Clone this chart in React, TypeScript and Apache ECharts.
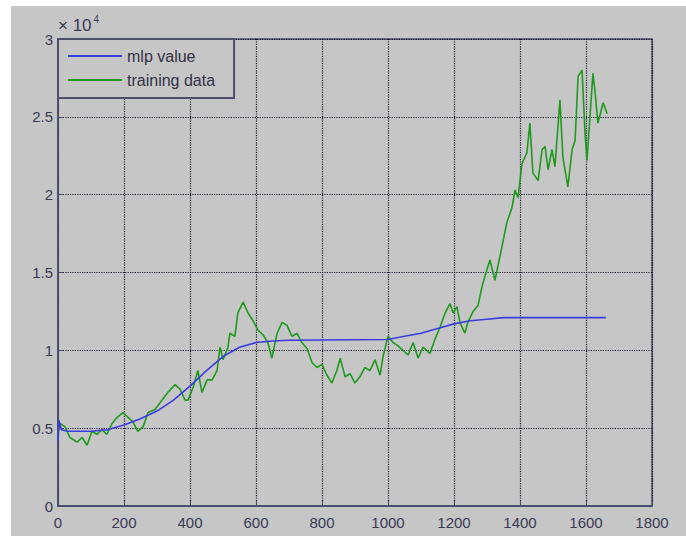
import React, { useEffect, useRef } from "react";
import * as echarts from "echarts";

// x-axis: sample index; y-axis values shown in units of 10^4
const xTicks = [0, 200, 400, 600, 800, 1000, 1200, 1400, 1600, 1800];
const yTicks = [0, 0.5, 1, 1.5, 2, 2.5, 3];
const seriesNames = ["mlp value", "training data"];

const mlpX = [0, 3, 10, 30, 100, 150, 200, 250, 300, 350, 400, 450, 500, 550, 600, 650, 700, 1000, 1050, 1100, 1150, 1200, 1250, 1300, 1350, 1400, 1660];
const mlpY = [0.42, 0.55, 0.49, 0.48, 0.48, 0.49, 0.52, 0.56, 0.61, 0.68, 0.77, 0.87, 0.96, 1.02, 1.05, 1.06, 1.065, 1.07, 1.09, 1.11, 1.14, 1.17, 1.19, 1.2, 1.21, 1.21, 1.21];

const trainX = [0, 6, 21, 36, 58, 73, 88, 103, 118, 133, 148, 164, 179, 197, 212, 227, 242, 258, 273, 294, 315, 333, 355, 370, 385, 394, 409, 424, 436, 452, 467, 482, 491, 500, 515, 521, 536, 545, 561, 576, 591, 606, 621, 636, 648, 664, 679, 694, 709, 724, 739, 755, 770, 785, 800, 815, 830, 845, 855, 870, 885, 900, 915, 930, 945, 961, 976, 985, 1000, 1015, 1030, 1045, 1061, 1076, 1091, 1106, 1127, 1142, 1158, 1173, 1188, 1197, 1209, 1218, 1233, 1242, 1258, 1273, 1285, 1300, 1309, 1324, 1339, 1360, 1376, 1385, 1394, 1406, 1421, 1430, 1439, 1455, 1467, 1476, 1485, 1497, 1506, 1521, 1530, 1545, 1558, 1567, 1576, 1588, 1597, 1603, 1612, 1621, 1627, 1636, 1652, 1664];
const trainY = [0.47, 0.53, 0.51, 0.44, 0.41, 0.44, 0.39, 0.48, 0.46, 0.49, 0.46, 0.53, 0.57, 0.6, 0.57, 0.54, 0.48, 0.51, 0.6, 0.62, 0.68, 0.73, 0.78, 0.75, 0.68, 0.68, 0.76, 0.87, 0.73, 0.81, 0.81, 0.87, 1.02, 0.94, 1.02, 1.11, 1.09, 1.24, 1.31, 1.24, 1.19, 1.13, 1.1, 1.05, 0.95, 1.11, 1.18, 1.16, 1.09, 1.11, 1.05, 1.01, 0.92, 0.89, 0.91, 0.84, 0.79, 0.87, 0.95, 0.83, 0.85, 0.79, 0.83, 0.89, 0.87, 0.94, 0.84, 0.96, 1.09, 1.05, 1.03, 1.0, 0.97, 1.05, 0.95, 1.02, 0.98, 1.07, 1.15, 1.24, 1.3, 1.24, 1.28, 1.18, 1.11, 1.18, 1.25, 1.29, 1.41, 1.52, 1.58, 1.45, 1.6, 1.82, 1.92, 2.03, 1.98, 2.2, 2.27, 2.46, 2.14, 2.09, 2.29, 2.31, 2.16, 2.29, 2.18, 2.61, 2.24, 2.05, 2.29, 2.35, 2.76, 2.8, 2.4, 2.22, 2.5, 2.78, 2.67, 2.46, 2.59, 2.52];

const FONT = "Liberation Sans, Arial, sans-serif";
const AXIS_COLOR = "#4c4c6c";
const TEXT_COLOR = "#3a3a55";

export default function App() {
  const ref = useRef<HTMLDivElement>(null);
  useEffect(() => {
    if (!ref.current) return;
    const chart = echarts.init(ref.current, null, { renderer: "svg" });
    const mlpData = mlpX.map((x, i) => [x, mlpY[i]]);
    const trainData = trainX.map((x, i) => [x, trainY[i]]);
    chart.setOption({
      animation: false,
      backgroundColor: "#c6c6c6",
      textStyle: { fontFamily: FONT },
      grid: {
        left: 47,
        top: 33,
        right: 34,
        bottom: 30,
        show: true,
        borderColor: AXIS_COLOR,
        borderWidth: 1.5,
        backgroundColor: "transparent",
      },
      legend: {
        orient: "vertical",
        left: 47,
        top: 33,
        data: seriesNames,
        icon: "rect",
        itemWidth: 54,
        itemHeight: 2,
        itemGap: 8,
        padding: [9, 19, 10, 10],
        borderColor: "#505068",
        borderWidth: 2,
        backgroundColor: "#c6c6c6",
        textStyle: { fontFamily: FONT, fontSize: 16, color: "#333344" },
      },
      xAxis: {
        type: "value",
        min: xTicks[0],
        max: xTicks[xTicks.length - 1],
        interval: xTicks[1] - xTicks[0],
        axisLine: { show: true, lineStyle: { color: AXIS_COLOR, width: 2 } },
        axisTick: { show: true, inside: true, length: 5, lineStyle: { color: AXIS_COLOR } },
        axisLabel: { color: TEXT_COLOR, fontSize: 15, fontFamily: FONT, margin: 9, formatter: (v: number) => String(v) },
        splitLine: { show: true, lineStyle: { color: "#1a1a2a", type: "dotted", width: 1.2 } },
      },
      yAxis: {
        type: "value",
        min: yTicks[0],
        max: yTicks[yTicks.length - 1],
        interval: yTicks[1] - yTicks[0],
        axisLine: { show: true, lineStyle: { color: AXIS_COLOR, width: 2 } },
        axisTick: { show: true, inside: true, length: 5, lineStyle: { color: AXIS_COLOR } },
        axisLabel: { color: TEXT_COLOR, fontSize: 15, fontFamily: FONT, margin: 5, formatter: (v: number) => String(v) },
        splitLine: { show: true, lineStyle: { color: "#1a1a2a", type: "dotted", width: 1.2 } },
      },
      graphic: [
        {
          type: "text",
          left: 47,
          top: 8,
          style: {
            text: "× 10{sup|4}",
            fontFamily: FONT,
            fontSize: 17,
            fill: TEXT_COLOR,
            rich: { sup: { fontSize: 10, verticalAlign: "top", padding: [0, 0, 12, 2], fill: TEXT_COLOR } },
          },
        },
      ],
      series: [
        {
          name: seriesNames[0],
          type: "line",
          data: mlpData,
          showSymbol: false,
          lineStyle: { color: "#3b3be0", width: 1.6 },
          itemStyle: { color: "#3b3be0" },
          z: 3,
        },
        {
          name: seriesNames[1],
          type: "line",
          data: trainData,
          showSymbol: false,
          lineStyle: { color: "#1f9a1f", width: 1.6 },
          itemStyle: { color: "#1f9a1f" },
          z: 2,
        },
      ],
    });
    return () => chart.dispose();
  }, []);
  return (
    <div
      ref={ref}
      style={{ position: "absolute", left: 11, top: 6, width: 675, height: 530 }}
    />
  );
}
